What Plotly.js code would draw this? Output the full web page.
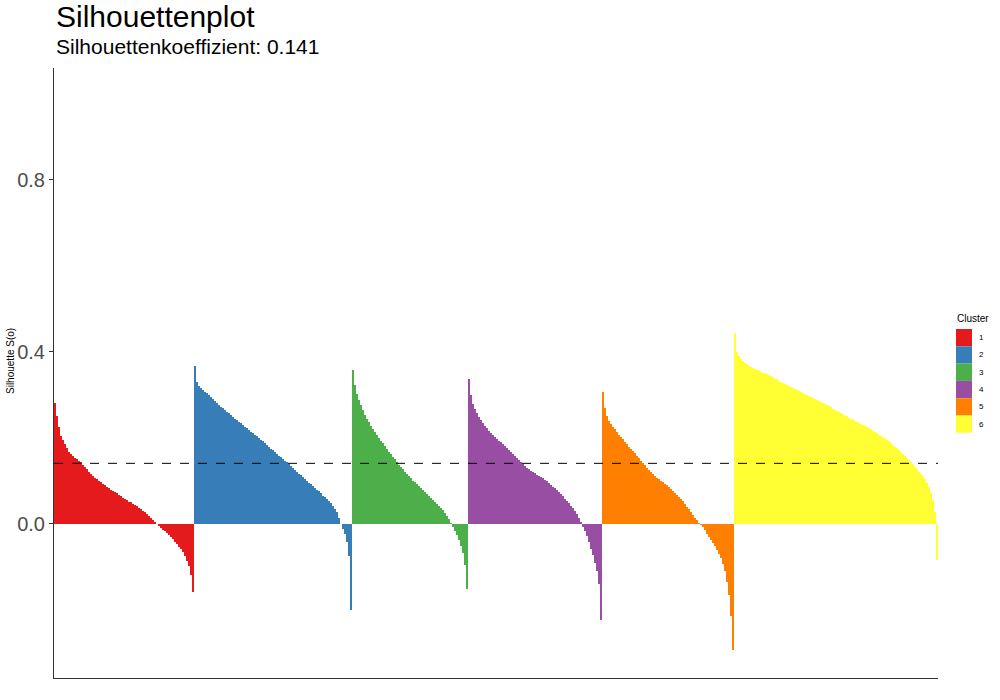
<!DOCTYPE html>
<html>
<head>
<meta charset="utf-8">
<script src="https://cdn.plot.ly/plotly-3.0.1.min.js"></script>
<style>html,body{margin:0;padding:0;background:#fff;}#chart{width:1000px;height:700px;}</style>
</head>
<body>
<div id="chart"></div>
<script>
const clusterNames = ['1','2','3','4','5','6'];
const clusterColors = ['#E41A1C','#377EB8','#4DAF4A','#984EA3','#FF7F00','#FFFF33'];
const meanSilhouette = 0.141;

const cluster1 = [0.282,0.25,0.225,0.205,0.195,0.185,0.176,0.168,0.162,0.157,0.153,0.150,0.147,0.143,0.138,0.133,0.127,0.121,0.116,0.111,
  0.107,0.104,0.100,0.097,0.094,0.090,0.087,0.083,0.080,0.077,0.074,0.071,0.067,0.064,0.061,0.058,0.055,0.052,0.050,0.047,
  0.044,0.041,0.038,0.035,0.031,0.027,0.023,0.018,0.013,0.009,0.004,-0.001,-0.005,-0.009,-0.013,-0.017,-0.022,-0.026,-0.031,-0.036,
  -0.041,-0.047,-0.053,-0.059,-0.066,-0.075,-0.085,-0.098,-0.118,-0.158];
const cluster2 = [0.368,0.33,0.32,0.315,0.311,0.307,0.304,0.300,0.295,0.291,0.286,0.282,0.277,0.273,0.269,0.265,0.261,0.257,0.253,0.249,
  0.245,0.242,0.238,0.234,0.230,0.226,0.222,0.219,0.215,0.211,0.207,0.204,0.200,0.196,0.192,0.188,0.183,0.179,0.175,0.171,
  0.167,0.163,0.159,0.155,0.151,0.147,0.143,0.139,0.134,0.130,0.126,0.121,0.117,0.113,0.109,0.105,0.100,0.096,0.092,0.088,
  0.084,0.080,0.076,0.071,0.066,0.062,0.057,0.053,0.048,0.042,0.035,0.027,0.015,0.001,-0.012,-0.024,-0.042,-0.075,-0.20];
const cluster3 = [0.357,0.322,0.302,0.288,0.276,0.265,0.254,0.245,0.236,0.227,0.220,0.213,0.207,0.201,0.194,0.188,0.181,0.175,0.168,0.162,
  0.156,0.150,0.144,0.138,0.133,0.127,0.122,0.116,0.111,0.106,0.101,0.097,0.092,0.088,0.083,0.078,0.074,0.069,0.065,0.060,
  0.056,0.051,0.047,0.042,0.037,0.032,0.026,0.019,0.011,0.002,-0.008,-0.017,-0.026,-0.037,-0.050,-0.068,-0.095,-0.15];
const cluster4 = [0.338,0.300,0.280,0.267,0.257,0.249,0.242,0.235,0.228,0.222,0.217,0.212,0.207,0.202,0.198,0.194,0.190,0.185,0.181,0.176,
  0.171,0.167,0.162,0.157,0.153,0.148,0.143,0.139,0.135,0.131,0.127,0.124,0.121,0.118,0.115,0.112,0.109,0.106,0.103,0.099,
  0.095,0.091,0.087,0.083,0.079,0.075,0.070,0.065,0.059,0.054,0.049,0.043,0.037,0.031,0.023,0.014,0.004,-0.006,-0.017,-0.029,
  -0.042,-0.057,-0.072,-0.090,-0.110,-0.140,-0.223];
const cluster5 = [0.306,0.270,0.252,0.240,0.233,0.226,0.220,0.214,0.208,0.202,0.197,0.191,0.186,0.180,0.175,0.169,0.164,0.158,0.153,0.147,
  0.142,0.137,0.131,0.126,0.121,0.116,0.111,0.107,0.104,0.101,0.097,0.094,0.090,0.086,0.081,0.077,0.072,0.067,0.063,0.058,
  0.053,0.047,0.040,0.034,0.027,0.020,0.014,0.009,0.003,-0.002,-0.008,-0.015,-0.023,-0.031,-0.038,-0.045,-0.052,-0.060,-0.069,-0.080,
  -0.093,-0.110,-0.135,-0.165,-0.215,-0.293];
const cluster6 = [0.444,0.400,0.390,0.384,0.379,0.375,0.371,0.368,0.366,0.363,0.361,0.359,0.357,0.354,0.352,0.350,0.348,0.346,0.343,0.341,
  0.338,0.336,0.333,0.331,0.328,0.326,0.323,0.321,0.319,0.317,0.314,0.312,0.310,0.307,0.305,0.303,0.300,0.298,0.296,0.293,
  0.291,0.289,0.286,0.284,0.281,0.279,0.276,0.274,0.271,0.268,0.266,0.263,0.260,0.257,0.255,0.252,0.250,0.247,0.245,0.243,
  0.240,0.238,0.235,0.233,0.231,0.228,0.226,0.223,0.220,0.217,0.214,0.211,0.208,0.205,0.202,0.199,0.196,0.192,0.188,0.184,
  0.180,0.176,0.172,0.167,0.163,0.159,0.154,0.149,0.144,0.139,0.133,0.127,0.122,0.116,0.111,0.104,0.096,0.086,0.072,0.055,
  0.028,-0.084];

const clusters = [cluster1,cluster2,cluster3,cluster4,cluster5,cluster6];

const traces = [];
let offset = 0;
clusters.forEach((vals, k) => {
  const xs = vals.map((_, i) => offset + i + 1);
  offset += vals.length;
  traces.push({
    type: 'bar', x: xs, y: vals, name: clusterNames[k],
    marker: {color: clusterColors[k], line: {width: 0}},
    showlegend: false, hoverinfo: 'y'
  });
});
const total = offset;

const L = 54, T = 68, W = 884, H = 610;
const px2x = p => (p - L) / W;
const py2y = p => (T + H - p) / H;
const FONT = 'Liberation Sans, Arial, Helvetica, sans-serif';

const shapes = [
  {type:'line', xref:'paper', yref:'y', x0:0, x1:1, y0:meanSilhouette, y1:meanSilhouette,
   line:{color:'#000', width:1, dash:'dash'}}
];
const annotations = [
  {text:'Silhouettenplot', xref:'paper', yref:'paper', x:px2x(54), y:py2y(17), xanchor:'left', yanchor:'middle', showarrow:false,
   font:{family:FONT, size:30, color:'#000'}},
  {text:'Silhouettenkoeffizient: 0.141', xref:'paper', yref:'paper', x:px2x(54), y:py2y(47), xanchor:'left', yanchor:'middle', showarrow:false,
   font:{family:FONT, size:21, color:'#000'}},
  {text:'Silhouette S(o)', xref:'paper', yref:'paper', x:px2x(10), y:py2y(361), xanchor:'center', yanchor:'middle', textangle:-90, showarrow:false,
   font:{family:FONT, size:10, color:'#000'}},
  {text:'Cluster', xref:'paper', yref:'paper', x:px2x(955), y:py2y(318), xanchor:'left', yanchor:'middle', showarrow:false,
   font:{family:FONT, size:10, color:'#000'}}
];
const keyH = 17.3;
clusterNames.forEach((n, k) => {
  const top = 329 + keyH * k;
  shapes.push({type:'rect', xref:'paper', yref:'paper', x0:px2x(956), x1:px2x(972), y0:py2y(top + keyH), y1:py2y(top),
    fillcolor: clusterColors[k], line:{width:0}});
  annotations.push({text:n, xref:'paper', yref:'paper', x:px2x(977), y:py2y(top + keyH/2), xanchor:'left', yanchor:'middle', showarrow:false,
    font:{family:FONT, size:8, color:'#000'}});
});

const layout = {
  width:1000, height:700,
  margin:{l:L, r:1000-L-W, t:T, b:700-T-H, pad:0},
  paper_bgcolor:'#fff', plot_bgcolor:'#fff',
  bargap:0, barmode:'overlay',
  showlegend:false,
  xaxis:{range:[0.5, total+0.5], showticklabels:false, ticks:'', showgrid:false, zeroline:false,
    showline:true, linecolor:'#333', linewidth:1},
  yaxis:{range:[-0.358, 1.06], tickvals:[0,0.4,0.8], ticktext:['0.0','0.4','0.8'], ticks:'outside', ticklen:4,
    tickcolor:'#333', tickwidth:1, showgrid:false, zeroline:false, showline:true, linecolor:'#333', linewidth:1,
    tickfont:{family:FONT, size:20, color:'#4d4d4d'}},
  shapes: shapes,
  annotations: annotations
};
Plotly.newPlot('chart', traces, layout, {staticPlot:true});
</script>
</body>
</html>
